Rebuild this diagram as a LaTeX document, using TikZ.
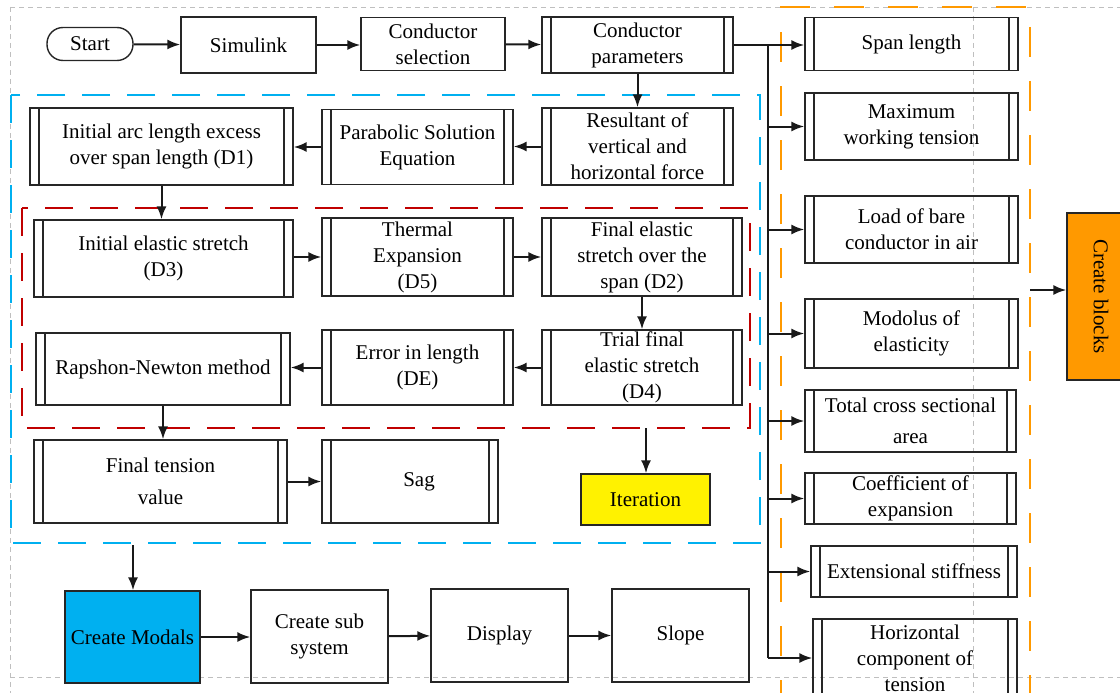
\documentclass[tikz,border=0pt]{standalone}
\usepackage{fontspec}
\setmainfont{Liberation Serif}
\usetikzlibrary{arrows.meta}
\definecolor{mblue}{RGB}{0,176,240}
\definecolor{morange}{RGB}{255,153,0}
\definecolor{mred}{RGB}{192,0,0}
\tikzset{
  box_p/.style = {draw=black!85, line width=1.4pt, inner sep=0pt, align=center,
    font=\fontsize{21}{26}\selectfont},% plain process
  box_d/.style = {box_p, path picture={
      \draw[line width=1.4pt, black!85]
        ([xshift=9pt]path picture bounding box.north west) -- ([xshift=9pt]path picture bounding box.south west)
        ([xshift=-9pt]path picture bounding box.north east) -- ([xshift=-9pt]path picture bounding box.south east);
    }},% predefined process
  box_t/.style = {box_p, rounded corners=16pt},% terminal
  arr/.style = {-{Latex[length=13pt,width=10pt]}, line width=2pt, black!90},
  grp/.style = {line width=2.6pt, dash pattern=on 28pt off 17pt},% group frame
  page_l/.style = {black!25, line width=0.6pt, dash pattern=on 5pt off 4pt}
}

\begin{document}
\begin{tikzpicture}[x=1pt, y=-1pt]
\useasboundingbox (0,0) rectangle (1120,693);
% page lines
\draw[page_l] (10,7) -- (1120,7) (10,7) -- (10,693) (10,677) -- (1120,677) (973,7) -- (973,693);
% group frames
\draw[grp, mblue] (11,95) rectangle (760,543);
\draw[grp, mred] (22,208) rectangle (750,428);
\draw[grp, morange, dash pattern=on 30pt off 24pt] (781,710) -- (781,7) -- (1030,7) -- (1030,710);
\coordinate (red_s) at (646,428);
\coordinate (blue_s) at (133,545);
\coordinate (orange_e) at (1030,290);

% top row
\node[box_t, minimum width=86pt, minimum height=33pt] (start) at (90,44) {Start};
\node[box_p, minimum width=135pt, minimum height=56pt] (simulink) at (248.5,45) {Simulink};
\node[box_p, minimum width=144pt, minimum height=53pt] (cselect) at (433,44) {Conductor\\selection};
\node[box_d, minimum width=191pt, minimum height=56pt] (cparam) at (637.5,45) {Conductor\\parameters};

% parameters
\node[box_d, minimum width=213pt, minimum height=53pt] (span) at (911.5,44) {Span length};
\node[box_d, minimum width=213pt, minimum height=67pt] (maxwt) at (911.5,126.5) {Maximum\\working tension};
\node[box_d, minimum width=213pt, minimum height=67pt] (load) at (911.5,229.5) {Load of bare\\conductor in air};
\node[box_d, minimum width=213pt, minimum height=69pt] (modul) at (911.5,333.5) {Modolus of\\elasticity};
\node[box_d, minimum width=211pt, minimum height=62pt] (area) at (910.5,421) {Total cross sectional\\[5pt]area};
\node[box_d, minimum width=211pt, minimum height=51pt] (coef) at (910.5,498.5) {Coefficient of\\expansion};
\node[box_d, minimum width=206pt, minimum height=51pt] (stiff) at (914,571.5) {Extensional stiffness};
\node[box_d, minimum width=204pt, minimum height=78pt] (horiz) at (915,658) {Horizontal\\component of\\tension};
\node[box_p, fill=morange, rotate=-90, minimum width=167pt, minimum height=68pt] (cblocks) at (1101,296.5) {Create blocks};

% calculation
\node[box_d, minimum width=263pt, minimum height=77pt] (arc) at (161.5,146.5) {Initial arc length excess\\over span length (D1)};
\node[box_d, minimum width=191pt, minimum height=75pt] (parab) at (417.5,147) {Parabolic Solution\\Equation};
\node[box_d, minimum width=191pt, minimum height=77pt] (result) at (637.5,146.5) {Resultant of\\vertical and\\horizontal force};
\node[box_d, minimum width=259pt, minimum height=77pt] (elast) at (163.5,258.5) {Initial elastic stretch\\(D3)};
\node[box_d, minimum width=191pt, minimum height=78pt] (thermal) at (417.5,257) {Thermal\\Expansion\\(D5)};
\node[box_d, minimum width=200pt, minimum height=78pt] (final2) at (642,257) {Final elastic\\stretch over the\\span (D2)};
\node[box_d, minimum width=254pt, minimum height=72pt] (rapshon) at (163,369) {Rapshon-Newton method};
\node[box_d, minimum width=191pt, minimum height=75pt] (error) at (417.5,367.5) {Error in length\\(DE)};
\node[box_d, minimum width=200pt, minimum height=75pt] (trial) at (642,367.5) {Trial final\\elastic stretch\\(D4)};
\node[box_d, minimum width=253pt, minimum height=83pt] (ftension) at (160.5,481.5) {Final tension\\[6pt]value};
\node[box_d, minimum width=176pt, minimum height=83pt] (sag) at (410,481.5) {\hspace*{18pt}Sag};
\node[box_p, fill=yellow, minimum width=129pt, minimum height=51pt] (iter) at (645.5,499.5) {Iteration};

% output
\node[box_p, fill=mblue, minimum width=135pt, minimum height=92pt] (cmodal) at (132.5,637) {Create Modals};
\node[box_p, minimum width=137pt, minimum height=93pt] (csub) at (319.5,636.5) {Create sub\\system};
\node[box_p, minimum width=137pt, minimum height=93pt] (display) at (499.5,635.5) {Display};
\node[box_p, minimum width=137pt, minimum height=93pt] (slope) at (680.5,635.5) {Slope};

% connectors
\draw[arr] (start) -- (simulink);
\draw[arr] (simulink.east) -- (simulink.east -| cselect.west);
\draw[arr] (cselect) -- (cparam);
\draw[arr] (cparam.east) -- (cparam.east -| span.west);
\coordinate (trunk_t) at (768,45);
\draw[line width=2pt, black!90] (trunk_t) -- (trunk_t |- horiz.west);
\foreach \n in {maxwt,load,modul,area,coef,stiff,horiz}
  \draw[arr] (trunk_t |- \n.west) -- (\n.west);
\draw[arr] (orange_e) -- (orange_e -| cblocks.south);
\draw[arr] (cparam.south) -- (cparam.south |- result.north);
\draw[arr] (result.west) -- (result.west -| parab.east);
\draw[arr] (parab.west) -- (parab.west -| arc.east);
\draw[arr] (arc.south) -- (arc.south |- elast.north);
\draw[arr] (elast.east |- thermal.west) -- (thermal.west);
\draw[arr] (thermal) -- (final2);
\draw[arr] (final2.south) -- (final2.south |- trial.north);
\draw[arr] (trial) -- (error);
\draw[arr] (error.west) -- (error.west -| rapshon.east);
\draw[arr] (rapshon.south) -- (rapshon.south |- ftension.north);
\draw[arr] (ftension.east) -- (ftension.east -| sag.west);
\draw[arr] (red_s) -- (red_s |- iter.north);
\draw[arr] (blue_s) -- (blue_s |- cmodal.north);
\draw[arr] (cmodal.east) -- (cmodal.east -| csub.west);
\draw[arr] (csub) -- (display);
\draw[arr] (display) -- (slope);
\end{tikzpicture}
\end{document}
